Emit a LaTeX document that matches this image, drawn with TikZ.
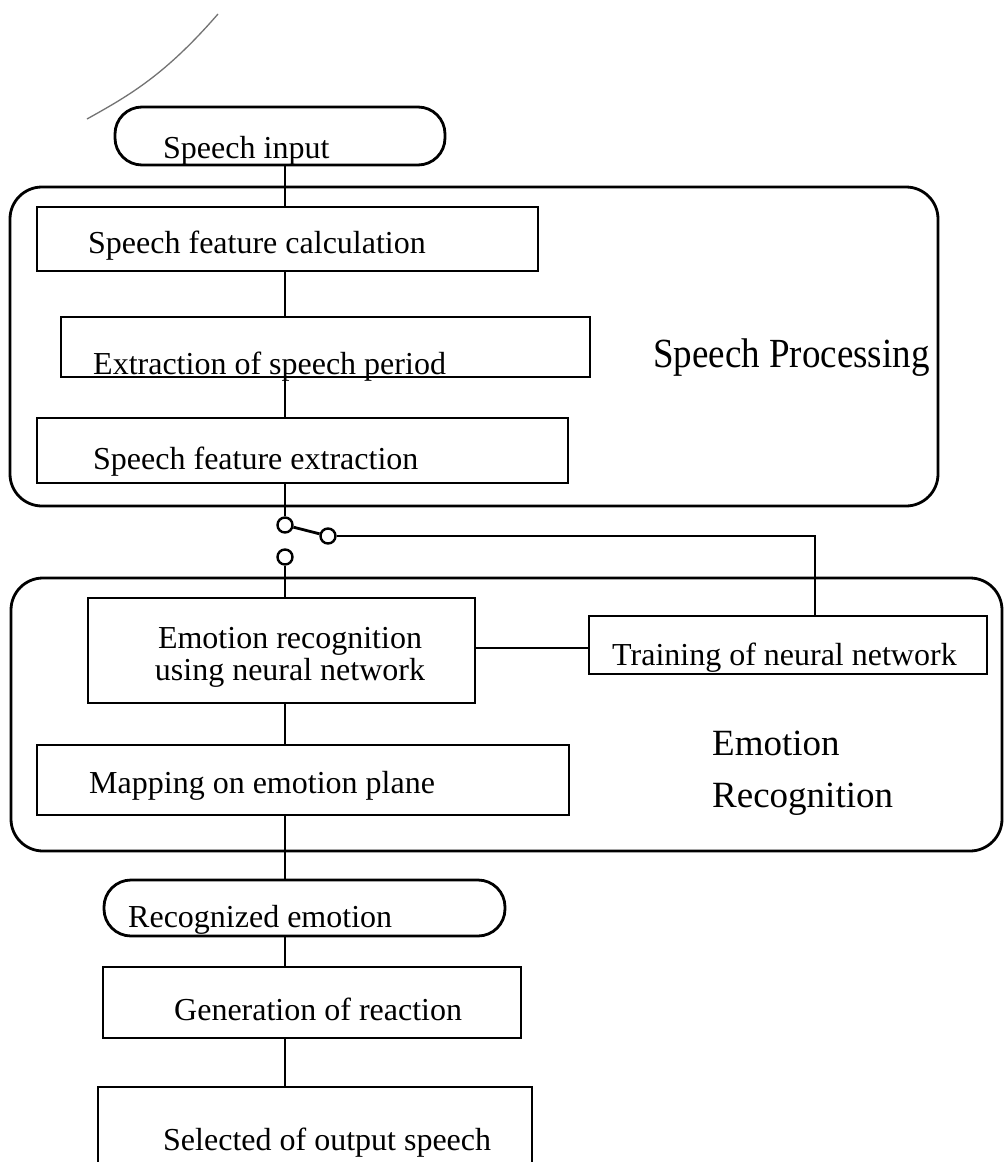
\documentclass[tikz,border=0pt]{standalone}
\usepackage{fontspec}
\setmainfont{Liberation Serif}
\begin{document}
\begin{tikzpicture}[x=1pt,y=-1pt,
  wire/.style={line width=2.8pt},
  stepbox/.style={draw, line width=2.8pt, inner sep=0pt},
  pill/.style={draw, line width=2.8pt, inner sep=0pt, rounded corners=27pt},
  group/.style={draw, line width=2.8pt, inner sep=0pt, rounded corners=32pt},
  lbl/.style={font=\fontsize{32}{36}\selectfont, inner sep=0pt, anchor=base west},
  biglbl/.style={font=\fontsize{37}{42}\selectfont, inner sep=0pt, anchor=base west},
  contact/.style={circle, draw, line width=2.4pt, minimum size=15pt, inner sep=0pt}
]
\useasboundingbox (0,0) rectangle (1004,1162);
\fill[white] (0,0) rectangle (1004,1162);
\clip (0,0) rectangle (1004,1162);

% pen stroke in the upper left
\draw[black!55, line width=1.3pt] (87,119) .. controls (130,95) and (165,75) .. (218,14);

% processing groups
\node[group, minimum width=928pt, minimum height=319pt] (sp) at (474,346.5) {};
\node[group, minimum width=991pt, minimum height=273pt] (er) at (506.5,714.5) {};

% steps
\node[pill, minimum width=330pt, minimum height=58pt] (input) at (280,136) {};
\node[stepbox, minimum width=501pt, minimum height=64pt] (calc) at (287.5,239) {};
\node[stepbox, minimum width=529pt, minimum height=60pt] (period) at (325.5,347) {};
\node[stepbox, minimum width=531pt, minimum height=65pt] (extract) at (302.5,450.5) {};
\node[stepbox, minimum width=387pt, minimum height=105pt] (nn) at (281.5,650.5) {};
\node[stepbox, minimum width=398pt, minimum height=58pt] (train) at (788,645) {};
\node[stepbox, minimum width=532pt, minimum height=70pt] (plane) at (303,780) {};
\node[pill, minimum width=401pt, minimum height=56pt] (emo) at (304.5,908) {};
\node[stepbox, minimum width=418pt, minimum height=71pt] (react) at (312,1002.5) {};
\node[stepbox, minimum width=434pt, minimum height=110pt] (output) at (315,1142) {};

% switch contacts
\node[contact] (sa) at (285,525) {};
\node[contact] (sb) at (328,536) {};
\node[contact] (sc) at (285,557) {};

\coordinate (spine) at (285,0);
\coordinate (bend) at (815,536);
\coordinate (link) at (0,648);

% connectors
\draw[wire] (input.south -| spine) -- (calc.north -| spine);
\draw[wire] (calc.south -| spine) -- (period.north -| spine);
\draw[wire] (period.south -| spine) -- (extract.north -| spine);
\draw[wire] (extract.south -| spine) -- (sa);
\draw[wire] (sa) -- (sb);
\draw[wire] (sb) -- (bend) -- (bend |- train.north);
\draw[wire] (sc) -- (nn.north -| sc);
\draw[wire] (nn.east |- link) -- (train.west |- link);
\draw[wire] (nn.south -| spine) -- (plane.north -| spine);
\draw[wire] (plane.south -| spine) -- (emo.north -| spine);
\draw[wire] (emo.south -| spine) -- (react.north -| spine);
\draw[wire] (react.south -| spine) -- (output.north -| spine);

% labels
\node[lbl] (tinput) at (163,158) {Speech input};
\node[lbl] (tcalc) at (88,253) {Speech feature calculation};
\node[lbl] (tperiod) at (93,374) {Extraction of speech period};
\node[lbl] (textract) at (93,469) {Speech feature extraction};
\node[biglbl] (tsp) at (653,367) {\scalebox{1}[1.12]{Speech Processing}};
\node[lbl, anchor=base] (tnna) at (290,648) {Emotion recognition};
\node[lbl, anchor=base] (tnnb) at (290,680) {using neural network};
\node[lbl] (ttrain) at (612,665) {Training of neural network};
\node[lbl] (tplane) at (89,793) {Mapping on emotion plane};
\node[biglbl] (tera) at (712,755) {Emotion};
\node[biglbl] (terb) at (712,807) {Recognition};
\node[lbl] (temo) at (128,927) {Recognized emotion};
\node[lbl] (treact) at (174,1020) {Generation of reaction};
\node[lbl] (toutput) at (163,1150) {Selected of output speech};
\end{tikzpicture}
\end{document}
